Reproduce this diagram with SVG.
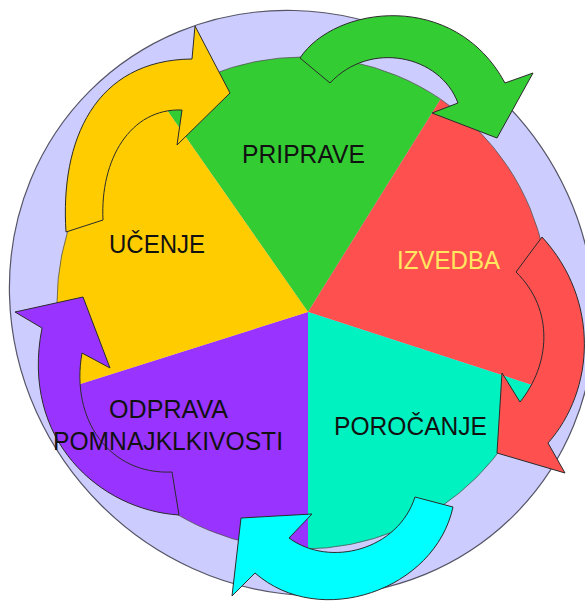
<svg xmlns="http://www.w3.org/2000/svg" width="585" height="601" viewBox="0 0 585 601">
<style>
.arrow{stroke:#2b2b2b;stroke-width:1;stroke-linejoin:miter}
.lbl{font-family:"Liberation Sans",Arial,sans-serif;font-size:26px;fill:#111}
</style>
<rect width="585" height="601" fill="#ffffff"/>
<ellipse id="ring" cx="302" cy="303" rx="300" ry="285" transform="rotate(45 302 303)" fill="#CCCCFF" stroke="#555566" stroke-width="1.2"/>
<g id="priprave"><path d="M308,312 L161.3,101.9 A246,246 0 0 1 440.6,99.2 Z" fill="#33CC33"/></g>
<g id="izvedba"><path d="M308,312 L440.6,99.2 A246,246 0 0 1 534.7,385.9 Z" fill="#FF5050"/></g>
<g id="porocanje"><path d="M308,312 L534.7,385.9 A246,246 0 0 1 308,549 Z" fill="#00F2C0"/></g>
<g id="odprava"><path d="M308,312 L308,549 A246,246 0 0 1 71.6,386.7 Z" fill="#9933FF"/></g>
<g id="ucenje"><path d="M308,312 L71.6,386.7 A246,246 0 0 1 161.3,101.9 Z" fill="#FFCC00"/></g>
<circle cx="303" cy="303" r="246" fill="none" stroke="#555" stroke-width="0.8"/>
<g id="connectors">
<path id="arrow-ucenje-priprave" class="arrow" fill="#FFCC00" d="M66,232 C60,140 95,60 192,59 L195,26 L230,93 L177,145 L182,110 C130,108 100,160 103,220 Z"/>
<path id="arrow-priprave-izvedba" class="arrow" fill="#33CC33" d="M300,58 C335,5 455,-10 505,83 L533,73 L497,138 L432,113 L458,103 C440,55 370,40 330,83 Z"/>
<path id="arrow-izvedba-porocanje" class="arrow" fill="#FF5050" d="M542,237 C600,300 595,390 548,443 L565,473 L497,453 L502,373 L520,402 C550,365 555,310 516,272 Z"/>
<path id="arrow-porocanje-odprava" class="arrow" fill="#00FFFF" d="M453,507 C435,590 320,630 255,573 L232,596 L241,518 L312,514 L289,538 C330,568 398,550 415,497 Z"/>
<path id="arrow-odprava-ucenje" class="arrow" fill="#9933FF" d="M179,515 C100,510 20,440 42,328 L15,312 L83,297 L110,368 L82,353 C70,420 110,475 172,472 Z"/>
</g>
<g id="labels">
<text id="lbl-priprave" class="lbl" x="242" y="163" textLength="123" lengthAdjust="spacingAndGlyphs">PRIPRAVE</text>
<text id="lbl-izvedba" class="lbl" x="397" y="269" textLength="103" lengthAdjust="spacingAndGlyphs" style="fill:#FFE860">IZVEDBA</text>
<text id="lbl-porocanje" class="lbl" x="334" y="435" textLength="153" lengthAdjust="spacingAndGlyphs">POROČANJE</text>
<text id="lbl-odprava1" class="lbl" x="109" y="418" textLength="119" lengthAdjust="spacingAndGlyphs">ODPRAVA</text>
<text id="lbl-odprava2" class="lbl" x="53" y="450" textLength="230" lengthAdjust="spacingAndGlyphs">POMNAJKLKIVOSTI</text>
<text id="lbl-ucenje" class="lbl" x="109" y="253" textLength="96" lengthAdjust="spacingAndGlyphs">UČENJE</text>
</g>
</svg>
